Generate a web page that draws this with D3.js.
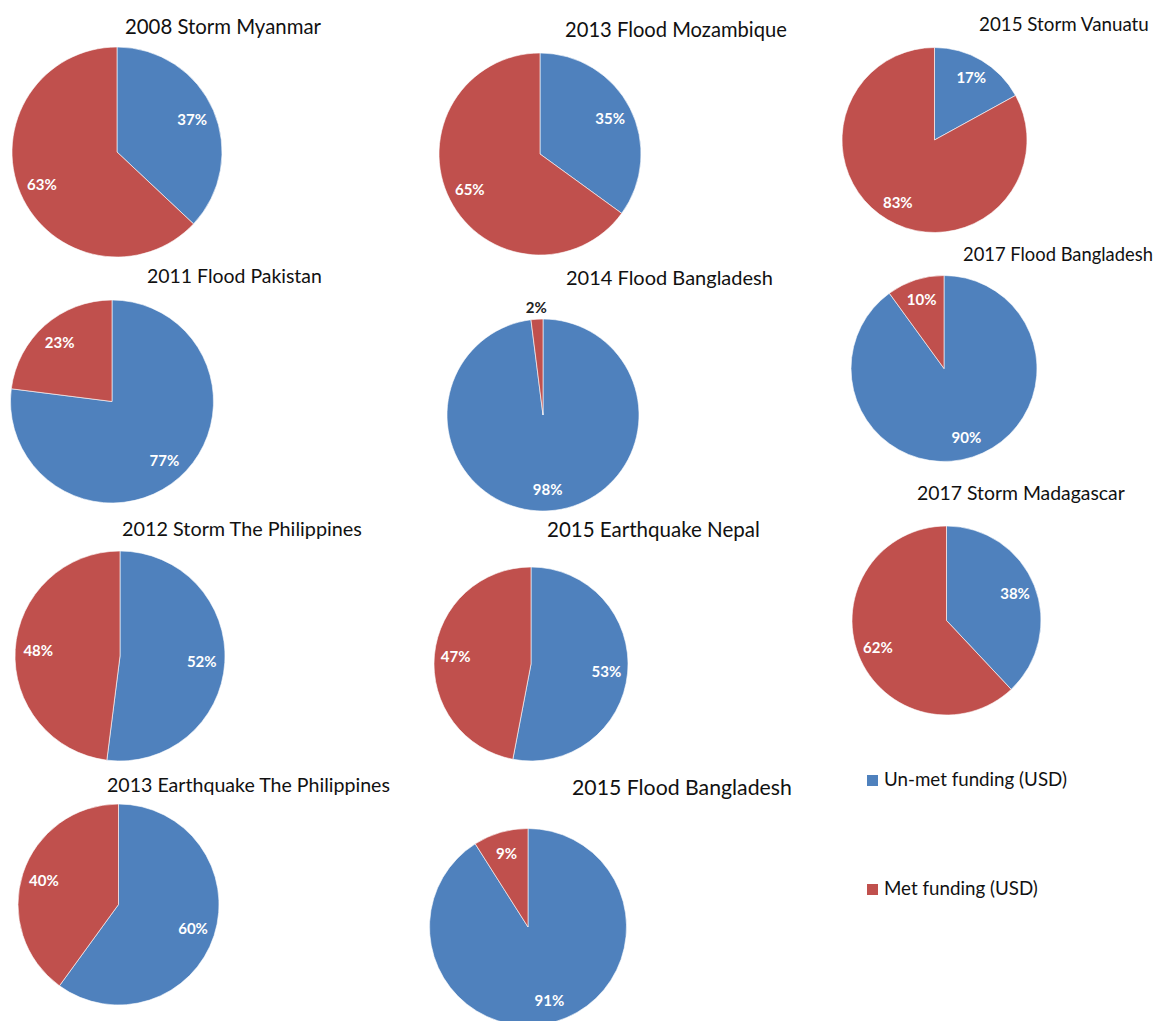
<!DOCTYPE html>
<html>
<head>
<meta charset="utf-8">
<script src="https://cdn.jsdelivr.net/npm/d3@7"></script>
<style>
  body { margin: 0; background: #fff; }
  svg { display: block; }
  text { font-family: Lato, "Open Sans", sans-serif; }
</style>
</head>
<body>
<script>
// data
const titles = [
  "2008 Storm Myanmar", "2011 Flood Pakistan", "2012 Storm The Philippines",
  "2013 Earthquake The Philippines", "2013 Flood Mozambique", "2014 Flood Bangladesh",
  "2015 Earthquake Nepal", "2015 Flood Bangladesh", "2015 Storm Vanuatu",
  "2017 Flood Bangladesh", "2017 Storm Madagascar"
];
const unmet = [37, 77, 52, 60, 35, 98, 53, 91, 17, 90, 38];
const met   = [63, 23, 48, 40, 65, 2, 47, 9, 83, 10, 62];
const seriesNames = ["Un-met funding (USD)", "Met funding (USD)"];
const colors = ["#4F81BD", "#C0504D"];

// where each little pie sits on the page (cx, cy, r, title x, baseline, title width)
const layout = [
  [117, 152, 105, 125, 34, 196],
  [112, 401.5, 101.5, 147, 283, 175],
  [120, 656, 105, 122, 536, 240],
  [118.5, 904.5, 100.5, 107, 792, 283],
  [540, 154, 101, 565, 37, 222],
  [543, 415, 96, 566, 285, 207],
  [531, 664, 97, 547, 537, 213],
  [528, 927, 98.5, 572, 795, 220],
  [934.5, 140, 92.5, 979, 31, 170],
  [944, 368.5, 93, 963, 261, 190],
  [946.5, 620.5, 94.5, 917, 500, 208]
];

const W = 1157, H = 1021;
const svg = d3.select("body").append("svg").attr("width", W).attr("height", H);

const pie = d3.pie().sort(null).value(d => d.value);
const color = d3.scaleOrdinal().domain(seriesNames).range(colors);

function fitText(sel, width, base) {
  sel.style("font-size", base + "px");
  const w = sel.node().getComputedTextLength();
  sel.style("font-size", (base * width / w) + "px");
}

titles.forEach(function(t, i) {
  const [cx, cy, r, tx, ty, tw] = layout[i];
  const rows = [
    { name: seriesNames[0], value: unmet[i] },
    { name: seriesNames[1], value: met[i] }
  ];
  const arcs = pie(rows);
  const arc = d3.arc().innerRadius(0).outerRadius(r);
  const labelArc = d3.arc().innerRadius(r * 0.78).outerRadius(r * 0.78);
  const outArc = d3.arc().innerRadius(r + 12).outerRadius(r + 12);

  const g = svg.append("g").attr("transform", "translate(" + cx + "," + cy + ")");
  g.selectAll("path").data(arcs).enter().append("path")
    .attr("d", arc)
    .attr("fill", d => color(d.data.name))
    .attr("stroke", "#fff")
    .attr("stroke-width", 0.6);

  g.selectAll("text.lbl").data(arcs).enter().append("text")
    .attr("class", "lbl")
    .attr("transform", d => "translate(" + (d.data.value < 5 ? outArc : labelArc).centroid(d) + ")")
    .attr("text-anchor", "middle")
    .attr("dy", "0.36em")
    .style("font-size", "15px")
    .style("font-weight", "bold")
    .attr("fill", d => d.data.value < 5 ? "#222" : "#fff")
    .text(d => d.data.value + "%");

  const title = svg.append("text")
    .attr("x", tx).attr("y", ty)
    .attr("fill", "#111")
    .text(t);
  fitText(title, tw, 20);
});

// legend
const legendY = [786, 895];
const legendW = [183, 154];
seriesNames.forEach(function(n, i) {
  svg.append("rect")
    .attr("x", 867).attr("y", legendY[i] - 11)
    .attr("width", 11).attr("height", 11)
    .attr("fill", color(n));
  const t = svg.append("text")
    .attr("x", 884).attr("y", legendY[i])
    .attr("fill", "#111")
    .text(n);
  fitText(t, legendW[i], 17);
});
</script>
</body>
</html>
